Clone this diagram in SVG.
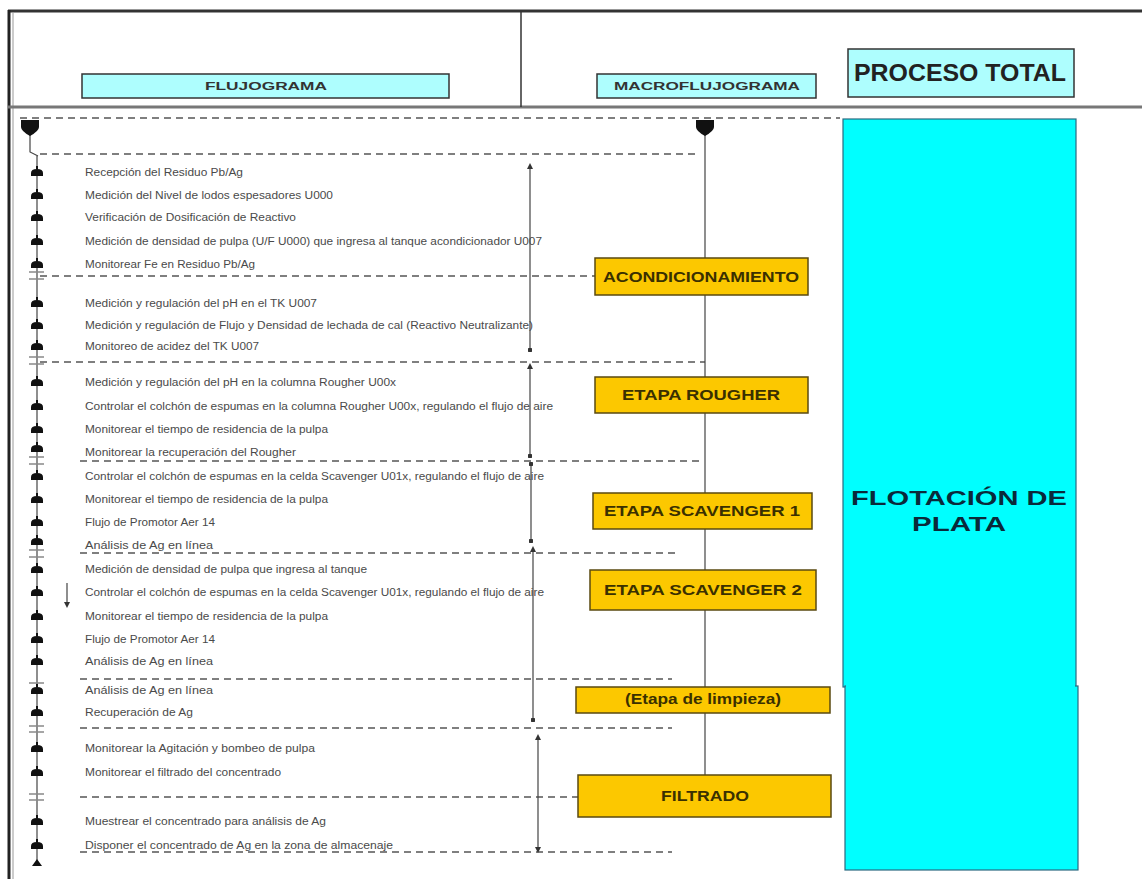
<svg xmlns="http://www.w3.org/2000/svg" width="1142" height="879" viewBox="0 0 1142 879">
<style>
.frame{stroke:#333;fill:none}
.hdr{fill:#aefefe;stroke:#333;stroke-width:1.5}
.hdrt{font-family:"Liberation Sans",Arial,sans-serif;font-weight:bold;font-size:11px;fill:#333;text-anchor:middle}
.stage{fill:#fcc800;stroke:#5a4a10;stroke-width:1.5}
.stt{font-family:"Liberation Sans",Arial,sans-serif;font-weight:bold;font-size:14px;fill:#3a3000;text-anchor:middle}
.step{font-family:"Liberation Sans",Arial,sans-serif;font-size:10px;fill:#4a4a4a}
.dash{stroke:#555;stroke-width:1.5;stroke-dasharray:7,5;fill:none}
.ln{stroke:#444;stroke-width:1.2;fill:none}
.mark{fill:#111}
</style>
<defs>
<marker id="ah" viewBox="0 0 8 8" refX="4" refY="4" markerWidth="5" markerHeight="5" orient="auto-start-reverse"><path d="M0,0 L8,4 L0,8 Z" fill="#333"/></marker>
<marker id="dot" viewBox="0 0 6 6" refX="3" refY="3" markerWidth="4" markerHeight="4"><circle cx="3" cy="3" r="3" fill="#333"/></marker>
<path id="bell" d="M-6,3 L-6,0 Q-6,-4 0,-4 Q6,-4 6,0 L6,3 Z M-1,-7 L1,-7 L1,-4 L-1,-4 Z"/>
<path id="shield" d="M-9,-7 L9,-7 L9,0 Q9,4 0,9 Q-9,4 -9,0 Z"/>
</defs>
<rect width="1142" height="879" fill="#fff"/>
<g id="frame">
<line x1="8" y1="11" x2="1142" y2="11" stroke="#333" stroke-width="3"/>
<line x1="9" y1="10" x2="9" y2="879" stroke="#222" stroke-width="3"/>
<line x1="13" y1="12" x2="13" y2="879" stroke="#999" stroke-width="1"/>
<line x1="8" y1="107" x2="1142" y2="107" stroke="#777" stroke-width="3"/>
<line x1="521" y1="11" x2="521" y2="107" stroke="#333" stroke-width="1.5"/>
</g>
<g id="hdr-flujograma"><rect class="hdr" x="82" y="74" width="367" height="24"/><text class="hdrt" x="266" y="90" textLength="122" lengthAdjust="spacingAndGlyphs">FLUJOGRAMA</text></g>
<g id="hdr-macro"><rect class="hdr" x="597" y="74" width="219" height="24"/><text class="hdrt" x="707" y="90" textLength="186" lengthAdjust="spacingAndGlyphs">MACROFLUJOGRAMA</text></g>
<g id="hdr-total"><rect class="hdr" x="848" y="49" width="226" height="48"/><text x="960" y="81" font-family="'Liberation Sans',Arial,sans-serif" font-weight="bold" font-size="23" fill="#222" text-anchor="middle" textLength="212" lengthAdjust="spacingAndGlyphs">PROCESO TOTAL</text></g>
<g id="total">
<rect x="843" y="119" width="233" height="568" fill="#00ffff" stroke="#2a6a80" stroke-width="1.2"/>
<rect x="845" y="686" width="233" height="184" fill="#00ffff" stroke="#2a6a80" stroke-width="1.2"/>
<rect x="846" y="680" width="229" height="12" fill="#00ffff"/>
<text font-family="'Liberation Sans',Arial,sans-serif" font-weight="bold" font-size="20" fill="#0a2a3a" text-anchor="middle"><tspan x="959" y="505" textLength="216" lengthAdjust="spacingAndGlyphs">FLOTACIÓN DE</tspan><tspan x="959" y="531" textLength="94" lengthAdjust="spacingAndGlyphs">PLATA</tspan></text>
</g>
<g id="connectors">
<line class="dash" x1="20" y1="118" x2="840" y2="118"/>
<line class="dash" x1="40" y1="154" x2="700" y2="154"/>
<line class="dash" x1="40" y1="276" x2="595" y2="276"/>
<line class="dash" x1="40" y1="362" x2="705" y2="362"/>
<line class="dash" x1="80" y1="461" x2="700" y2="461"/>
<line class="dash" x1="80" y1="553" x2="675" y2="553"/>
<line class="dash" x1="80" y1="679" x2="672" y2="679"/>
<line class="dash" x1="80" y1="728" x2="672" y2="728"/>
<line class="dash" x1="80" y1="797" x2="578" y2="797"/>
<line class="dash" x1="80" y1="852" x2="672" y2="852"/>
<polyline class="ln" points="30,133 30,152 38,156"/>
<line class="ln" x1="37" y1="156" x2="37" y2="862"/>
<line class="ln" x1="705" y1="133" x2="705" y2="775"/>
<line class="ln" x1="530" y1="166" x2="530" y2="350" marker-start="url(#ah)" marker-end="url(#dot)"/>
<line class="ln" x1="530" y1="366" x2="530" y2="456" marker-start="url(#ah)" marker-end="url(#dot)"/>
<line class="ln" x1="531" y1="464" x2="531" y2="541" marker-start="url(#dot)" marker-end="url(#dot)"/>
<line class="ln" x1="533" y1="549" x2="533" y2="720" marker-start="url(#ah)" marker-end="url(#dot)"/>
<line class="ln" x1="538" y1="737" x2="538" y2="850" marker-start="url(#ah)" marker-end="url(#ah)"/>
<line class="ln" x1="67" y1="583" x2="67" y2="605" marker-end="url(#ah)"/>
<use href="#shield" x="30" y="127" class="mark"/>
<use href="#shield" x="705" y="127" class="mark"/>
<g class="mark">
<use href="#bell" x="37" y="173"/><use href="#bell" x="37" y="196"/><use href="#bell" x="37" y="218"/><use href="#bell" x="37" y="242"/><use href="#bell" x="37" y="265"/>
<use href="#bell" x="37" y="304"/><use href="#bell" x="37" y="326"/><use href="#bell" x="37" y="347"/>
<use href="#bell" x="37" y="383"/><use href="#bell" x="37" y="407"/><use href="#bell" x="37" y="430"/><use href="#bell" x="37" y="449"/>
<use href="#bell" x="37" y="477"/><use href="#bell" x="37" y="500"/><use href="#bell" x="37" y="523"/><use href="#bell" x="37" y="542"/>
<use href="#bell" x="37" y="570"/><use href="#bell" x="37" y="593"/><use href="#bell" x="37" y="617"/><use href="#bell" x="37" y="640"/><use href="#bell" x="37" y="662"/>
<use href="#bell" x="37" y="691"/><use href="#bell" x="37" y="713"/>
<use href="#bell" x="37" y="749"/><use href="#bell" x="37" y="773"/>
<use href="#bell" x="37" y="822"/><use href="#bell" x="37" y="846"/>
<path d="M32,866 L37,859 L42,866 Z"/>
</g>
<g stroke="#888" stroke-width="1.5">
<line x1="29" y1="272" x2="44" y2="272"/><line x1="29" y1="279" x2="44" y2="279"/>
<line x1="29" y1="357" x2="44" y2="357"/><line x1="29" y1="364" x2="44" y2="364"/>
<line x1="29" y1="457" x2="44" y2="457"/><line x1="29" y1="464" x2="44" y2="464"/>
<line x1="29" y1="550" x2="44" y2="550"/><line x1="29" y1="557" x2="44" y2="557"/>
<line x1="29" y1="683" x2="44" y2="683"/>
<line x1="29" y1="726" x2="44" y2="726"/><line x1="29" y1="732" x2="44" y2="732"/>
<line x1="29" y1="794" x2="44" y2="794"/><line x1="29" y1="800" x2="44" y2="800"/>
</g>
</g>
<g id="steps">
<text class="step" x="85" y="176" textLength="158" lengthAdjust="spacingAndGlyphs">Recepción del Residuo Pb/Ag</text>
<text class="step" x="85" y="199" textLength="248" lengthAdjust="spacingAndGlyphs">Medición del Nivel de lodos espesadores U000</text>
<text class="step" x="85" y="221" textLength="211" lengthAdjust="spacingAndGlyphs">Verificación de Dosificación de Reactivo</text>
<text class="step" x="85" y="245" textLength="457" lengthAdjust="spacingAndGlyphs">Medición de densidad de pulpa (U/F U000) que ingresa al tanque acondicionador U007</text>
<text class="step" x="85" y="268" textLength="170" lengthAdjust="spacingAndGlyphs">Monitorear Fe en Residuo Pb/Ag</text>
<text class="step" x="85" y="307" textLength="232" lengthAdjust="spacingAndGlyphs">Medición y regulación del pH en el TK U007</text>
<text class="step" x="85" y="329" textLength="448" lengthAdjust="spacingAndGlyphs">Medición y regulación de Flujo y Densidad de lechada de cal (Reactivo Neutralizante)</text>
<text class="step" x="85" y="350" textLength="174" lengthAdjust="spacingAndGlyphs">Monitoreo de acidez del TK U007</text>
<text class="step" x="85" y="386" textLength="311" lengthAdjust="spacingAndGlyphs">Medición y regulación del pH en la columna Rougher U00x</text>
<text class="step" x="85" y="410" textLength="468" lengthAdjust="spacingAndGlyphs">Controlar el colchón de espumas en la columna Rougher U00x, regulando el flujo de aire</text>
<text class="step" x="85" y="433" textLength="243" lengthAdjust="spacingAndGlyphs">Monitorear el tiempo de residencia de la pulpa</text>
<text class="step" x="85" y="456" textLength="211" lengthAdjust="spacingAndGlyphs">Monitorear la recuperación del Rougher</text>
<text class="step" x="85" y="480" textLength="459" lengthAdjust="spacingAndGlyphs">Controlar el colchón de espumas en la celda Scavenger U01x, regulando el flujo de aire</text>
<text class="step" x="85" y="503" textLength="243" lengthAdjust="spacingAndGlyphs">Monitorear el tiempo de residencia de la pulpa</text>
<text class="step" x="85" y="526" textLength="130" lengthAdjust="spacingAndGlyphs">Flujo de Promotor Aer 14</text>
<text class="step" x="85" y="549" textLength="128" lengthAdjust="spacingAndGlyphs">Análisis de Ag en línea</text>
<text class="step" x="85" y="573" textLength="282" lengthAdjust="spacingAndGlyphs">Medición de densidad de pulpa que ingresa al tanque</text>
<text class="step" x="85" y="596" textLength="459" lengthAdjust="spacingAndGlyphs">Controlar el colchón de espumas en la celda Scavenger U01x, regulando el flujo de aire</text>
<text class="step" x="85" y="620" textLength="243" lengthAdjust="spacingAndGlyphs">Monitorear el tiempo de residencia de la pulpa</text>
<text class="step" x="85" y="643" textLength="130" lengthAdjust="spacingAndGlyphs">Flujo de Promotor Aer 14</text>
<text class="step" x="85" y="665" textLength="128" lengthAdjust="spacingAndGlyphs">Análisis de Ag en línea</text>
<text class="step" x="85" y="694" textLength="128" lengthAdjust="spacingAndGlyphs">Análisis de Ag en línea</text>
<text class="step" x="85" y="716" textLength="108" lengthAdjust="spacingAndGlyphs">Recuperación de Ag</text>
<text class="step" x="85" y="752" textLength="230" lengthAdjust="spacingAndGlyphs">Monitorear la Agitación y bombeo de pulpa</text>
<text class="step" x="85" y="776" textLength="196" lengthAdjust="spacingAndGlyphs">Monitorear el filtrado del concentrado</text>
<text class="step" x="85" y="825" textLength="241" lengthAdjust="spacingAndGlyphs">Muestrear el concentrado para análisis de Ag</text>
<text class="step" x="85" y="849" textLength="308" lengthAdjust="spacingAndGlyphs">Disponer el concentrado de Ag en la zona de almacenaje</text>
</g>
<g id="acondicionamiento"><rect class="stage" x="595" y="258" width="213" height="37"/><text class="stt" x="701" y="282" textLength="196" lengthAdjust="spacingAndGlyphs">ACONDICIONAMIENTO</text></g>
<g id="rougher"><rect class="stage" x="595" y="377" width="213" height="36"/><text class="stt" x="701" y="400" textLength="158" lengthAdjust="spacingAndGlyphs">ETAPA ROUGHER</text></g>
<g id="scavenger1"><rect class="stage" x="593" y="493" width="219" height="36"/><text class="stt" x="702" y="516" textLength="196" lengthAdjust="spacingAndGlyphs">ETAPA SCAVENGER  1</text></g>
<g id="scavenger2"><rect class="stage" x="590" y="570" width="226" height="40"/><text class="stt" x="703" y="595" textLength="198" lengthAdjust="spacingAndGlyphs">ETAPA SCAVENGER  2</text></g>
<g id="limpieza"><rect class="stage" x="576" y="687" width="254" height="26"/><text class="stt" x="703" y="704" font-size="13" textLength="156" lengthAdjust="spacingAndGlyphs">(Etapa de limpieza)</text></g>
<g id="filtrado"><rect class="stage" x="578" y="775" width="253" height="42"/><text class="stt" x="705" y="801" textLength="88" lengthAdjust="spacingAndGlyphs">FILTRADO</text></g>
</svg>
